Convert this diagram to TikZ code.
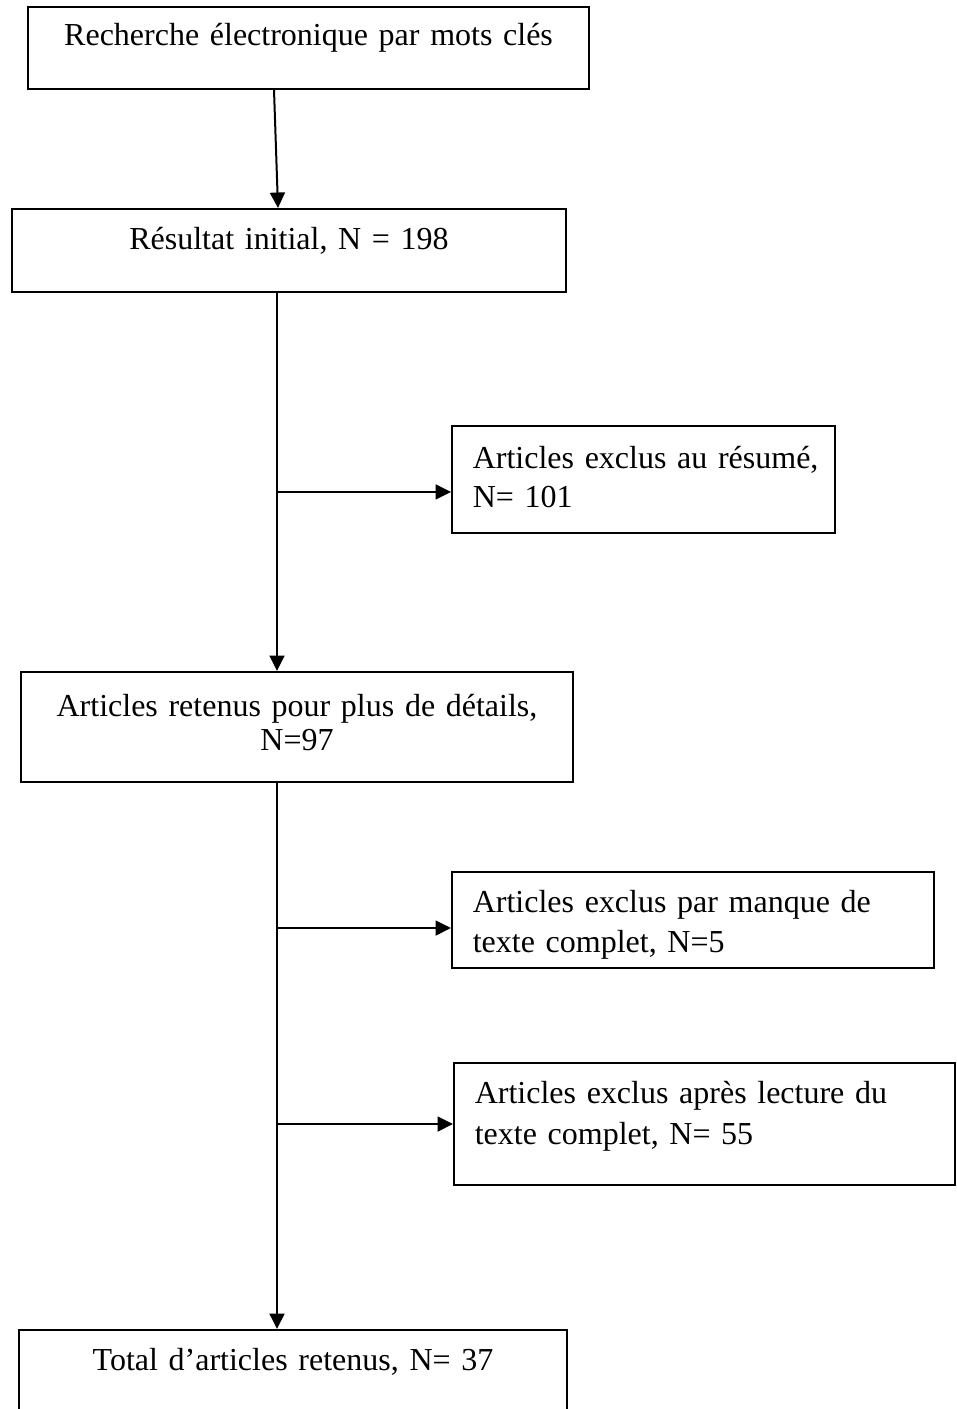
\documentclass[tikz,border=0pt]{standalone}
\usepackage{fontspec}
\setmainfont{Liberation Serif}
\usetikzlibrary{arrows.meta, calc}
\hyphenpenalty=10000
\tikzset{
    my-box/.style={
        draw, line width=0.75pt, rectangle, anchor=north west, inner ysep=0pt,
        font=\fontsize{12}{15}\selectfont
    },
    my-main-box/.style={
        my-box, inner xsep=4pt, align=center
    },
    my-side-box/.style={
        my-box, inner xsep=7.8pt, align=left
    },
    my-arrow/.style={
        line width=0.75pt, -{Triangle[length=5.8pt, width=5.6pt]}
    },
}

\begin{document}
\begin{tikzpicture}[x=0.375pt, y=-0.375pt]

        % PAGE
        \useasboundingbox (0, 0) rectangle (956, 1409);
        \clip (0, 0) rectangle (956, 1409);

        % MAIN BOXES
        \node[my-main-box, text width=202.4pt, text height=14.6pt, text depth=16.1pt]  (RECH) at (27, 6)    {Recherche électronique par mots clés};
        \node[my-main-box, text width=199.75pt, text height=15pt, text depth=16.1pt]   (RES)  at (11, 208)  {Résultat initial, N = 198};
        \node[my-main-box, text width=199pt, text height=16.5pt, text depth=24.75pt,
              font=\fontsize{12}{12.75}\selectfont]                                     (RET)  at (20, 671)  {Articles retenus pour plus de détails,\\ N=97};
        \node[my-main-box, text width=197.5pt, text height=15pt, text depth=22.5pt]    (TOT)  at (18, 1329) {Total d’articles retenus, N= 37};

        % EXCLUSION BOXES
        \node[my-side-box, text width=128pt, text height=16.1pt, text depth=24pt,
              font=\fontsize{12}{14.5}\selectfont]                                      (EXCL1) at (451, 425)  {\mbox{Articles exclus au résumé,}\\ N= 101};
        \node[my-side-box, text width=165.15pt, text height=15pt, text depth=21pt]     (EXCL2) at (451, 871)  {Articles exclus par manque de\\ texte complet, N=5};
        \node[my-side-box, text width=172.3pt, text height=15pt, text depth=30.75pt,
              font=\fontsize{12}{15.4}\selectfont]                                      (EXCL3) at (453, 1062) {Articles exclus après lecture du\\ texte complet, N= 55};

        % CONNECTOR POINTS
        \coordinate (RECHOUT) at ($(RECH.south west) + (247, 0)$);
        \coordinate (RESIN)   at ($(RES.north west)  + (267, 0)$);
        \coordinate (RESOUT)  at ($(RES.south west)  + (266, 0)$);
        \coordinate (RETIN)   at ($(RET.north west)  + (257, 0)$);
        \coordinate (RETOUT)  at ($(RET.south west)  + (257, 0)$);
        \coordinate (TOTIN)   at ($(TOT.north west)  + (259, 0)$);
        \coordinate (BRANCH1) at ($(RESOUT) + (0, 199)$);
        \coordinate (BRANCH2) at ($(RETOUT) + (0, 145)$);
        \coordinate (BRANCH3) at ($(RETOUT) + (0, 341)$);

        % MAIN FLOW
        \draw[my-arrow] (RECHOUT) -- (RESIN);
        \draw[my-arrow] (RESOUT) -- (RETIN);
        \draw[my-arrow] (RETOUT) -- (TOTIN);

        % EXCLUSIONS
        \draw[my-arrow] (BRANCH1) -- (BRANCH1 -| EXCL1.west);
        \draw[my-arrow] (BRANCH2) -- (BRANCH2 -| EXCL2.west);
        \draw[my-arrow] (BRANCH3) -- (BRANCH3 -| EXCL3.west);

    \end{tikzpicture}
\end{document}
